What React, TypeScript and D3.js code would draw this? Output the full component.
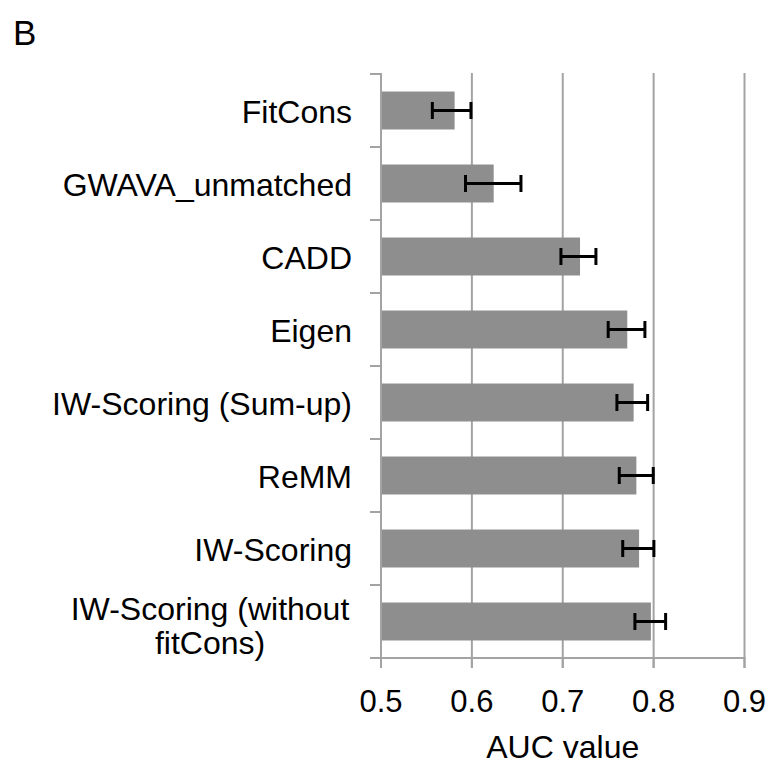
import React from "react";
import * as d3 from "d3";

const categories = [
  "FitCons",
  "GWAVA_unmatched",
  "CADD",
  "Eigen",
  "IW-Scoring (Sum-up)",
  "ReMM",
  "IW-Scoring",
  "IW-Scoring (without fitCons)",
];
const labelLines = [
  ["FitCons"],
  ["GWAVA_unmatched"],
  ["CADD"],
  ["Eigen"],
  ["IW-Scoring (Sum-up)"],
  ["ReMM"],
  ["IW-Scoring"],
  ["IW-Scoring (without", "fitCons)"],
];
const aucValues = [0.581, 0.624, 0.719, 0.771, 0.778, 0.781, 0.784, 0.797];
const errLow = [0.5565, 0.593, 0.698, 0.75, 0.7596, 0.7622, 0.766, 0.7794];
const errHigh = [0.599, 0.654, 0.7365, 0.7904, 0.7934, 0.7996, 0.8003, 0.8132];
const xTicks = [0.5, 0.6, 0.7, 0.8, 0.9];
const xTickLabels = ["0.5", "0.6", "0.7", "0.8", "0.9"];

export default function App() {
  const W = 773;
  const H = 767;
  const x = d3.scaleLinear().domain([0.5, 0.9]).range([381, 744.5]);
  const y = d3
    .scaleBand<string>()
    .domain(categories)
    .range([74, 658])
    .paddingInner(0.48)
    .paddingOuter(0.24);
  const band = d3.scaleBand<string>().domain(categories).range([74, 658]);
  const axisColor = "#a3a3a3";
  const font = "Liberation Sans, Arial, sans-serif";
  const bw = y.bandwidth();

  return (
    <svg
      width={W}
      height={H}
      style={{ position: "absolute", left: 0, top: 0, background: "#fff" }}
      fontFamily={font}
    >
      <text x={13} y={45} fontSize={35} fill="#000">
        B
      </text>
      {/* gridlines */}
      {xTicks.slice(1).map((t) => (
        <line
          key={"g" + t}
          x1={x(t)}
          x2={x(t)}
          y1={73}
          y2={668}
          stroke={axisColor}
          strokeWidth={2}
        />
      ))}
      {/* bars */}
      {categories.map((c, i) => (
        <rect
          key={"b" + c}
          x={x(0.5)}
          y={y(c)}
          width={x(aucValues[i]) - x(0.5)}
          height={bw}
          fill="#8e8e8e"
        />
      ))}
      {/* y axis */}
      <line x1={381} x2={381} y1={73} y2={659} stroke={axisColor} strokeWidth={2} />
      {categories.map((c) => (
        <line
          key={"yt" + c}
          x1={370}
          x2={381}
          y1={band(c)}
          y2={band(c)}
          stroke={axisColor}
          strokeWidth={2}
        />
      ))}
      <line x1={370} x2={381} y1={658} y2={658} stroke={axisColor} strokeWidth={2} />
      {/* x axis */}
      <line x1={380} x2={745.5} y1={658} y2={658} stroke={axisColor} strokeWidth={2} />
      {xTicks.map((t) => (
        <line
          key={"xt" + t}
          x1={x(t)}
          x2={x(t)}
          y1={658}
          y2={668}
          stroke={axisColor}
          strokeWidth={2}
        />
      ))}
      {xTicks.map((t, i) => (
        <text
          key={"xl" + t}
          x={x(t)}
          y={712}
          fontSize={31}
          textAnchor="middle"
          fill="#000"
        >
          {xTickLabels[i]}
        </text>
      ))}
      <text x={x(0.7)} y={758} fontSize={32} textAnchor="middle" fill="#000">
        AUC value
      </text>
      {/* error bars */}
      {categories.map((c, i) => {
        const cy = (y(c) as number) + bw / 2;
        const x1 = x(errLow[i]);
        const x2 = x(errHigh[i]);
        return (
          <g key={"e" + c} stroke="#000" strokeWidth={3}>
            <line x1={x1} x2={x2} y1={cy} y2={cy} />
            <line x1={x1} x2={x1} y1={cy - 8.5} y2={cy + 8.5} />
            <line x1={x2} x2={x2} y1={cy - 8.5} y2={cy + 8.5} />
          </g>
        );
      })}
      {/* category labels */}
      {categories.map((c, i) => {
        const cy = (band(c) as number) + band.bandwidth() / 2;
        const lines = labelLines[i];
        if (lines.length === 1) {
          return (
            <text
              key={"l" + c}
              x={352}
              y={cy + 12}
              fontSize={32}
              textAnchor="end"
              fill="#000"
            >
              {lines[0]}
            </text>
          );
        }
        return (
          <text
            key={"l" + c}
            x={210}
            y={cy - 1.5}
            fontSize={32}
            textAnchor="middle"
            fill="#000"
          >
            {lines.map((ln, j) => (
              <tspan key={j} x={210} dy={j === 0 ? 0 : 34}>
                {ln}
              </tspan>
            ))}
          </text>
        );
      })}
    </svg>
  );
}
